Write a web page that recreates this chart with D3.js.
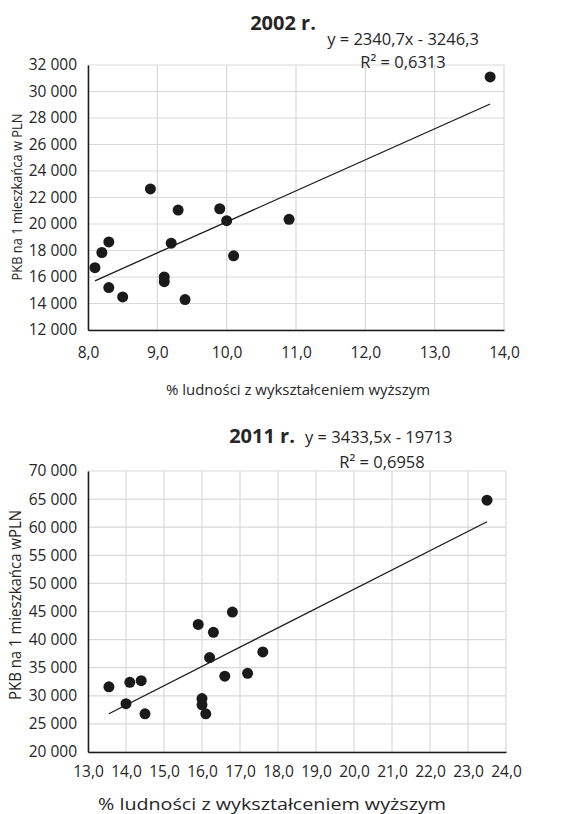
<!DOCTYPE html>
<html>
<head>
<meta charset="utf-8">
<script src="https://cdn.jsdelivr.net/npm/d3@7"></script>
<style>
  body { margin: 0; background: #fff; }
  svg text { font-family: 'Open Sans', sans-serif; fill: #262626; }
</style>
</head>
<body>
<script>
// 2002
var x2002 = [8.9, 9.3, 9.9, 10.0, 10.9, 8.3, 8.2, 9.2, 10.1, 8.1, 9.1, 9.1, 8.3, 8.5, 9.4, 13.8]
var y2002 = [22650, 21050, 21150, 20250, 20350, 18650, 17850, 18550, 17600, 16700, 16000, 15650, 15200, 14500, 14300, 31100]
var trend2002 = [2340.7, -3246.3]
var xTicks2002 = [8, 9, 10, 11, 12, 13, 14]
var yTicks2002 = [12000, 14000, 16000, 18000, 20000, 22000, 24000, 26000, 28000, 30000, 32000]

// 2011
var x2011 = [13.55, 14.1, 14.4, 14.0, 14.5, 15.9, 16.8, 16.3, 16.2, 17.6, 16.6, 17.2, 16.0, 16.0, 16.1, 23.5]
var y2011 = [31600, 32400, 32700, 28600, 26800, 42700, 44900, 41300, 36800, 37800, 33500, 34000, 29500, 28400, 26800, 64800]
var trend2011 = [3433.5, -19713]
var xTicks2011 = [13, 14, 15, 16, 17, 18, 19, 20, 21, 22, 23, 24]
var yTicks2011 = [20000, 25000, 30000, 35000, 40000, 45000, 50000, 55000, 60000, 65000, 70000]

var svg = d3.select('body').append('svg')
  .attr('width', 561)
  .attr('height', 814)

var fmtY = function(d) { return d3.format(',')(d).replace(',', ' ') }
var fmtX = function(d) { return d3.format('.1f')(d).replace('.', ',') }

function drawChart(o) {
  var g = svg.append('g')
  var x = d3.scaleLinear().domain(d3.extent(o.xTicks)).range([o.left, o.right])
  var y = d3.scaleLinear().domain(d3.extent(o.yTicks)).range([o.bottom, o.top])

  // grid
  g.selectAll('line.vg').data(o.xTicks).enter().append('line')
    .attr('x1', function(d) { return x(d) }).attr('x2', function(d) { return x(d) })
    .attr('y1', o.top).attr('y2', o.bottom)
    .attr('stroke', '#d9d9d9').attr('stroke-width', 1.2)
  g.selectAll('line.hg').data(o.yTicks).enter().append('line')
    .attr('y1', function(d) { return y(d) }).attr('y2', function(d) { return y(d) })
    .attr('x1', o.left).attr('x2', o.right)
    .attr('stroke', '#d9d9d9').attr('stroke-width', 1.2)

  // axes
  var ax = g.append('g').attr('transform', 'translate(0,' + o.bottom + ')')
    .call(d3.axisBottom(x).tickValues(o.xTicks).tickFormat(fmtX).tickSize(0).tickPadding(o.xPad))
  var ay = g.append('g').attr('transform', 'translate(' + o.left + ',0)')
    .call(d3.axisLeft(y).tickValues(o.yTicks).tickFormat(fmtY).tickSize(0).tickPadding(11))
  ax.select('.domain').attr('stroke', '#1a1a1a').attr('stroke-width', 1.5)
  ay.select('.domain').attr('stroke', '#1a1a1a').attr('stroke-width', 1.5)
  ax.selectAll('text').attr('font-size', o.tickFont).attr('font-family', 'Open Sans').attr('fill', '#262626')
  ay.selectAll('text').attr('font-size', o.tickFont).attr('font-family', 'Open Sans').attr('fill', '#262626')

  // trend line
  var xs = d3.extent(o.xs)
  g.append('line')
    .attr('x1', x(xs[0])).attr('y1', y(o.trend[0] * xs[0] + o.trend[1]))
    .attr('x2', x(xs[1])).attr('y2', y(o.trend[0] * xs[1] + o.trend[1]))
    .attr('stroke', '#1a1a1a').attr('stroke-width', 1.3)

  // points
  g.selectAll('circle').data(o.xs).enter().append('circle')
    .attr('cx', function(d) { return x(d) })
    .attr('cy', function(d, i) { return y(o.ys[i]) })
    .attr('r', 5.5)
    .attr('fill', '#1a1a1a')

  // texts
  g.append('text').attr('x', o.titleX).attr('y', o.titleY)
    .attr('font-size', 20).attr('font-weight', 'bold').attr('text-anchor', 'middle')
    .text(o.title)
  g.append('text').attr('x', o.eqX).attr('y', o.eqY)
    .attr('font-size', o.eqFont).attr('text-anchor', o.eqAnchor)
    .text(o.eq)
  g.append('text').attr('x', o.r2X).attr('y', o.r2Y)
    .attr('font-size', o.eqFont).attr('text-anchor', 'middle')
    .text(o.r2)
  g.append('text').attr('x', o.xTitleX).attr('y', o.xTitleY)
    .attr('font-size', o.xTitleFont).attr('text-anchor', 'middle')
    .attr('textLength', o.xTitleLen).attr('lengthAdjust', 'spacingAndGlyphs')
    .text(o.xTitle)
  g.append('text')
    .attr('transform', 'translate(' + o.yTitleX + ',' + o.yTitleY + ') rotate(-90)')
    .attr('font-size', o.yTitleFont).attr('text-anchor', 'middle')
    .attr('textLength', o.yTitleLen).attr('lengthAdjust', 'spacingAndGlyphs')
    .text(o.yTitle)
}

drawChart({
  xs: x2002, ys: y2002, trend: trend2002, xTicks: xTicks2002, yTicks: yTicks2002,
  left: 88, right: 504, top: 65, bottom: 330,
  tickFont: 15.5, xPad: 17,
  title: '2002 r.', titleX: 283, titleY: 30,
  eq: 'y = 2340,7x - 3246,3', eqX: 403, eqY: 45, eqAnchor: 'middle', eqFont: 16.5,
  r2: 'R² = 0,6313', r2X: 403, r2Y: 68,
  xTitle: '% ludności z wykształceniem wyższym', xTitleX: 298, xTitleY: 395, xTitleFont: 14, xTitleLen: 264,
  yTitle: 'PKB na 1 mieszkańca w PLN', yTitleX: 22, yTitleY: 197, yTitleFont: 15, yTitleLen: 167
})

drawChart({
  xs: x2011, ys: y2011, trend: trend2011, xTicks: xTicks2011, yTicks: yTicks2011,
  left: 88, right: 506, top: 471, bottom: 752,
  tickFont: 15.5, xPad: 14,
  title: '2011 r.', titleX: 262, titleY: 443,
  eq: 'y = 3433,5x - 19713', eqX: 305, eqY: 443, eqAnchor: 'start', eqFont: 16.5,
  r2: 'R² = 0,6958', r2X: 382, r2Y: 468,
  xTitle: '% ludności z wykształceniem  wyższym', xTitleX: 272, xTitleY: 810, xTitleFont: 17, xTitleLen: 348,
  yTitle: 'PKB na 1 mieszkańca wPLN', yTitleX: 21, yTitleY: 605, yTitleFont: 17, yTitleLen: 190
})
</script>
</body>
</html>
